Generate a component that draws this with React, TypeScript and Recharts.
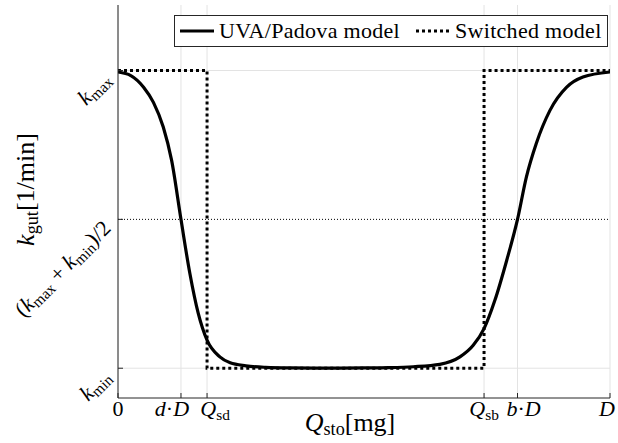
import React from 'react';
import {
  LineChart,
  Line,
  XAxis,
  YAxis,
  CartesianGrid,
  ReferenceLine,
  Legend
} from 'recharts';

// Q axis normalised to D = 1, k axis normalised so that kmin = 0 and kmax = 1
const xTickValues = [0, 0.128, 0.181, 0.744, 0.812, 1];
const yTickValues = [0, 0.5, 1];

// each label is a list of [text, style]: i = italic, r = roman, s = subscript
type Part = [string, 'i' | 'r' | 's'];
const xTickLabels: Part[][] = [
  [['0', 'r']],
  [['d', 'i'], ['·', 'r'], ['D', 'i']],
  [['Q', 'i'], ['sd', 's']],
  [['Q', 'i'], ['sb', 's']],
  [['b', 'i'], ['·', 'r'], ['D', 'i']],
  [['D', 'i']]
];
const yTickLabels: Part[][] = [
  [['k', 'i'], ['min', 's']],
  [['(', 'r'], ['k', 'i'], ['max', 's'], [' + ', 'r'], ['k', 'i'], ['min', 's'], [')/2', 'r']],
  [['k', 'i'], ['max', 's']]
];
const xLabel: Part[] = [['Q', 'i'], ['sto', 's'], ['[mg]', 'r']];
const yLabel: Part[] = [['k', 'i'], ['gut', 's'], ['[1/min]', 'r']];

// UVA/Padova curve
const uvaQ = [0, 0.026, 0.052, 0.072, 0.092, 0.109, 0.128, 0.146, 0.163, 0.181, 0.207, 0.228, 0.26, 0.3, 0.35, 0.4, 0.45, 0.5, 0.55, 0.6, 0.654, 0.695, 0.722, 0.744, 0.766, 0.79, 0.812, 0.83, 0.85, 0.878, 0.912, 0.945, 1];
const uvaK = [0.995, 0.983, 0.944, 0.893, 0.81, 0.698, 0.5, 0.319, 0.185, 0.094, 0.038, 0.018, 0.008, 0.003, 0.001, 0.0005, 0.0005, 0.001, 0.002, 0.005, 0.013, 0.038, 0.077, 0.133, 0.228, 0.362, 0.5, 0.642, 0.754, 0.866, 0.944, 0.978, 0.995];

// switched model: step down at Qsd, back up at Qsb
const switchedQ = [0, 0.181, 0.181, 0.744, 0.744, 1];
const switchedK = [1, 1, 0, 0, 1, 1];

const uvaData = uvaQ.map((q, i) => ({ q, k: uvaK[i] }));
const switchedData = switchedQ.map((q, i) => ({ q, k: switchedK[i] }));

const FONT = '"Liberation Serif", serif';
const INK = '#000';
const AXIS = '#262626';
// small horizontal nudges so the crowded x labels don't collide (as in the original)
const xLabelNudge = [0, -9, 8, 0, 6, -3];

const MathText = ({ parts, size, ...rest }: any) => {
  const shift = size * 0.16;
  let low = false;
  return (
    <text fontFamily={FONT} fontSize={size} fill={INK} {...rest}>
      {parts.map(([t, s]: Part, i: number) => {
        const sub = s === 's';
        const dy = sub && !low ? shift : !sub && low ? -shift : 0;
        low = sub;
        return (
          <tspan
            key={i}
            dy={dy || undefined}
            fontStyle={s === 'i' ? 'italic' : 'normal'}
            fontSize={sub ? size * 0.7 : undefined}
            style={{ whiteSpace: 'pre' }}
          >
            {t}
          </tspan>
        );
      })}
    </text>
  );
};

const BottomTick = ({ x, y, index }: any) => (
  <g>
    <line x1={x} y1={y} x2={x} y2={y - 5} stroke={AXIS} />
    <MathText parts={xTickLabels[index]} size={22} x={x + xLabelNudge[index]} y={y + 18} textAnchor="middle" />
  </g>
);

const TopTick = ({ x, y }: any) => <line x1={x} y1={y} x2={x} y2={y + 5} stroke={AXIS} />;

const LeftTick = ({ x, y, index }: any) => (
  <g>
    <line x1={x} y1={y} x2={x + 5} y2={y} stroke={AXIS} />
    <MathText
      parts={yTickLabels[index]}
      size={22}
      x={x - 6}
      y={y + 10}
      textAnchor="end"
      transform={`rotate(-45 ${x - 6} ${y + 10})`}
    />
  </g>
);

const RightTick = ({ x, y }: any) => <line x1={x} y1={y} x2={x - 5} y2={y} stroke={AXIS} />;

const XAxisLabel = ({ viewBox }: any) => (
  <MathText
    parts={xLabel}
    size={26}
    x={viewBox.x + viewBox.width / 2 - 14}
    y={viewBox.y + 33}
    textAnchor="middle"
  />
);

const YAxisLabel = ({ viewBox }: any) => {
  const cx = 34;
  const cy = viewBox.y + viewBox.height / 2 - 12;
  return (
    <MathText parts={yLabel} size={26} x={cx} y={cy} textAnchor="middle" transform={`rotate(-90 ${cx} ${cy})`} />
  );
};

const legendItems = [
  { name: 'UVA/Padova model', dash: undefined },
  { name: 'Switched model', dash: '3 3' }
];

const LegendBox = () => (
  <div
    style={{
      display: 'flex',
      alignItems: 'center',
      border: `1px solid ${AXIS}`,
      background: '#fff',
      height: 30,
      padding: '0 5px 0 5px',
      fontFamily: FONT,
      fontSize: 22,
      letterSpacing: 0.3,
      color: INK,
      whiteSpace: 'nowrap'
    }}
  >
    {legendItems.map((it, i) => (
      <div key={it.name} style={{ display: 'flex', alignItems: 'center', marginLeft: i ? 16 : 0 }}>
        <svg width={34} height={10}>
          <line x1={0} y1={5} x2={34} y2={5} stroke={INK} strokeWidth={3} strokeDasharray={it.dash} />
        </svg>
        <span style={{ marginLeft: 5 }}>{it.name}</span>
      </div>
    ))}
  </div>
);

export default function App() {
  return (
    <div style={{ width: 618, height: 443, background: '#fff' }}>
      <style>{'body{margin:0}'}</style>
      <LineChart width={618} height={443} margin={{ top: 5, right: 8, bottom: 0, left: 0 }}>
        <CartesianGrid stroke="#e3e3e3" horizontalValues={[0, 1]} verticalValues={xTickValues} />
        <XAxis
          dataKey="q"
          type="number"
          domain={[0, 1]}
          ticks={xTickValues}
          interval={0}
          height={45}
          tickSize={0}
          tickMargin={0}
          tickLine={false}
          stroke={AXIS}
          tick={<BottomTick />}
          label={{ content: <XAxisLabel /> }}
          allowDataOverflow
        />
        <XAxis
          xAxisId="top"
          orientation="top"
          dataKey="q"
          type="number"
          domain={[0, 1]}
          ticks={xTickValues}
          interval={0}
          height={0}
          tickSize={0}
          tickMargin={0}
          tickLine={false}
          stroke={AXIS}
          tick={<TopTick />}
          allowDataOverflow
        />
        <YAxis
          type="number"
          domain={[-0.1, 1.22]}
          ticks={yTickValues}
          interval={0}
          width={118}
          tickSize={0}
          tickMargin={0}
          tickLine={false}
          stroke={AXIS}
          tick={<LeftTick />}
          label={{ content: <YAxisLabel /> }}
          allowDataOverflow
        />
        <YAxis
          yAxisId="right"
          orientation="right"
          type="number"
          domain={[-0.1, 1.22]}
          ticks={yTickValues}
          interval={0}
          width={0}
          tickSize={0}
          tickMargin={0}
          tickLine={false}
          stroke={AXIS}
          tick={<RightTick />}
          allowDataOverflow
        />
        <ReferenceLine y={0.5} stroke={INK} strokeWidth={1} strokeDasharray="1 2" />
        <Line
          data={switchedData}
          dataKey="k"
          type="linear"
          stroke={INK}
          strokeWidth={3}
          strokeDasharray="3 3"
          dot={false}
          isAnimationActive={false}
        />
        <Line
          data={uvaData}
          dataKey="k"
          type="monotone"
          stroke={INK}
          strokeWidth={3.2}
          dot={false}
          isAnimationActive={false}
        />
        <Line
          xAxisId="top"
          yAxisId="right"
          data={switchedData}
          dataKey="k"
          stroke="none"
          dot={false}
          legendType="none"
          isAnimationActive={false}
        />
        <Legend
          verticalAlign="middle"
          align="center"
          content={<LegendBox />}
          wrapperStyle={{ top: 15, left: 174, width: 'auto' }}
        />
      </LineChart>
    </div>
  );
}
